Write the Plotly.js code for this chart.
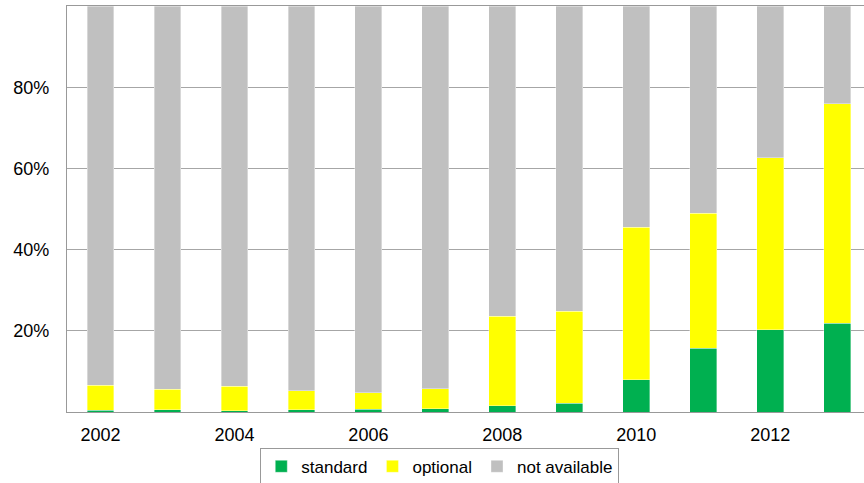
<!DOCTYPE html>
<html>
<head>
<meta charset="utf-8">
<script src="https://cdn.plot.ly/plotly-3.0.1.min.js"></script>
<style>html,body{margin:0;padding:0;background:#fff;}#chart{width:864px;height:483px;}</style>
</head>
<body>
<div id="chart"></div>
<script>
const years = [2002, 2003, 2004, 2005, 2006, 2007, 2008, 2009, 2010, 2011, 2012, 2013];
const standard = [0.4, 0.5, 0.3, 0.6, 0.7, 0.8, 1.6, 2.2, 7.9, 15.7, 20.2, 21.9];
const optional = [6.2, 5.1, 6.1, 4.6, 4.0, 4.9, 22.0, 22.6, 37.6, 33.3, 42.4, 54.0];
const notAvailable = [93.4, 94.4, 93.6, 94.8, 95.3, 94.3, 76.4, 75.2, 54.5, 51.0, 37.4, 24.1];
const seriesNames = ['standard', 'optional', 'not available'];
const yTickVals = [20, 40, 60, 80];
const yTickText = ['20%', '40%', '60%', '80%'];
const xTickVals = [2002, 2004, 2006, 2008, 2010, 2012];

const colors = ['#00B050', '#FFFF00', '#C0C0C0'];
const values = [standard, optional, notAvailable];
const traces = values.map((v, i) => ({
  type: 'bar',
  x: years,
  y: v,
  name: seriesNames[i],
  width: 0.4,
  marker: {color: colors[i], line: {color: 'rgba(255,255,255,0.6)', width: 0.6}},
  hoverinfo: 'x+y+name'
}));

const layout = {
  width: 864, height: 483,
  barmode: 'stack',
  paper_bgcolor: '#fff', plot_bgcolor: '#fff',
  margin: {l: 67, r: 0, t: 6, b: 71},
  font: {family: 'Liberation Sans, Arial, sans-serif', size: 18, color: '#000'},
  xaxis: {
    range: [2001.5, 2013.4],
    tickvals: xTickVals,
    ticktext: xTickVals.map(String),
    showgrid: false,
    showline: true, linecolor: '#999', linewidth: 1.2, mirror: true,
    ticks: '', ticklabelstandoff: 6,
    zeroline: false,
    automargin: false
  },
  yaxis: {
    range: [0, 100],
    tickvals: yTickVals,
    ticktext: yTickText,
    showgrid: true, gridcolor: '#A6A6A6', gridwidth: 1,
    showline: true, linecolor: '#999', linewidth: 1.2,
    ticks: '', ticklabelstandoff: 13,
    zeroline: false,
    automargin: false
  },
  legend: {
    orientation: 'h',
    xref: 'container', yref: 'container',
    x: 0.509, xanchor: 'center',
    y: 0.073, yanchor: 'top',
    bordercolor: '#999', borderwidth: 1,
    font: {size: 17},
    itemwidth: 30,
    tracegroupgap: 0,
    traceorder: 'normal'
  },
  showlegend: true
};

Plotly.newPlot('chart', traces, layout, {displayModeBar: false, staticPlot: true});
</script>
</body>
</html>
